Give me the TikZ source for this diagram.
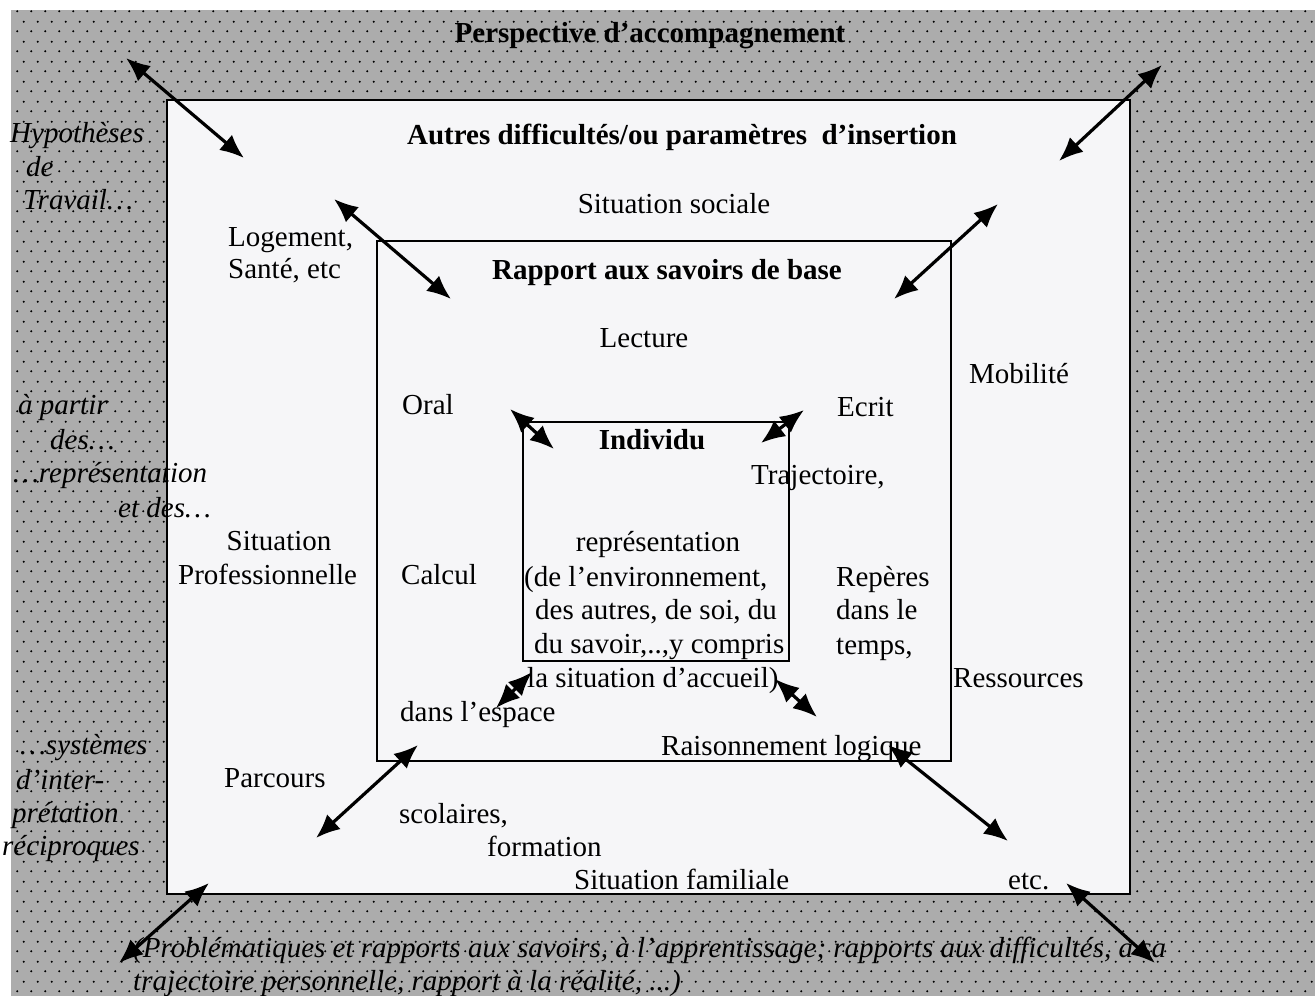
\documentclass[tikz,border=0pt]{standalone}
\usepackage{fontspec}
\setmainfont{Liberation Serif}
\usetikzlibrary{arrows.meta,patterns.meta}
\definecolor{bggray}{RGB}{172,172,172}
\definecolor{paper}{RGB}{246,246,248}
\tikzdeclarepattern{
  name=scandots,
  type=uncolored,
  bottom left={(0pt,0pt)},
  top right={(14pt,20pt)},
  tile size={(14pt,20pt)},
  code={
    \fill (3.5pt,5pt) circle (1.2pt);
    \fill (10.5pt,15pt) circle (1.2pt);
  }
}
\tikzset{
  txt/.style={inner sep=0pt, font=\fontsize{29}{34}\selectfont},
  hdr/.style={inner sep=0pt, font=\fontsize{29}{34}\selectfont\bfseries},
  side/.style={inner sep=0pt, font=\fontsize{29}{34}\selectfont\itshape},
  dbl/.style={line width=3.2pt, {Latex[length=24pt,width=20pt]}-{Latex[length=24pt,width=20pt]}},
  boxline/.style={draw=black, fill=paper, line width=2.2pt}
}
\begin{document}
\begin{tikzpicture}[x=1pt,y=-1pt]
\useasboundingbox (0,0) rectangle (1315,996);
\fill[white] (0,0) rectangle (1315,996);
\fill[bggray] (11,10) rectangle (1315,996);
\fill[pattern={scandots}, pattern color=black] (11,10) rectangle (1315,996);
% boxes
\draw[boxline] (167,100) rectangle (1130,894);
\draw[boxline, line width=2pt] (377,241) rectangle (951,761);
\draw[boxline, line width=2pt] (523,422) rectangle (789,661);
% texts
\node[hdr, anchor=base] (persp) at (650,42) {Perspective d’accompagnement};
\node[hdr, anchor=base] (autres) at (682,144) {Autres difficultés/ou paramètres\ \ d’insertion};
\node[txt, anchor=base] (sitsoc) at (674,213) {Situation sociale};
\node[txt, anchor=base west] (loge1) at (228,246) {Logement,};
\node[txt, anchor=base west] (loge2) at (228,278) {Santé, etc};
\node[hdr, anchor=base] (rapport) at (667,279) {Rapport aux savoirs de base};
\node[txt, anchor=base] (lecture) at (644,347) {Lecture};
\node[txt, anchor=base] (mobil) at (1019,383) {Mobilité};
\node[txt, anchor=base west] (oral) at (402,414) {Oral};
\node[txt, anchor=base west] (ecrit) at (837,416) {Ecrit};
\node[hdr, anchor=base] (indiv) at (652,449) {Individu};
\node[txt, anchor=base west] (traj) at (751,484) {Trajectoire,};
\node[txt, anchor=base] (repr) at (658,551) {représentation};
\node[txt, anchor=base west] (repr1) at (524,586) {(de l’environnement,};
\node[txt, anchor=base west] (repr2) at (535,619) {des autres, de soi, du};
\node[txt, anchor=base west] (repr3) at (534,653) {du savoir,..,y compris};
\node[txt, anchor=base west] (repr4) at (527,687) {la situation d’accueil)};
\node[txt, anchor=base] (sitpro1) at (279,550) {Situation};
\node[txt, anchor=base west] (sitpro2) at (178,584) {Professionnelle};
\node[txt, anchor=base west] (calcul) at (401,584) {Calcul};
\node[txt, anchor=base west] (rep1) at (836,586) {Repères};
\node[txt, anchor=base west] (rep2) at (836,619) {dans le};
\node[txt, anchor=base west] (rep3) at (836,654) {temps,};
\node[txt, anchor=base west] (ressour) at (953,687) {Ressources};
\node[txt, anchor=base west] (espace) at (400,721) {dans l’espace};
\node[txt, anchor=base west] (raison) at (661,755) {Raisonnement logique};
\node[txt, anchor=base west] (parcours) at (224,787) {Parcours};
\node[txt, anchor=base west] (scol) at (399,823) {scolaires,};
\node[txt, anchor=base west] (form) at (487,856) {formation};
\node[txt, anchor=base west] (sitfam) at (574,889) {Situation familiale};
\node[txt, anchor=base west] (etc) at (1008,889) {etc.};
% side texts
\node[side, anchor=base west] (hyp1) at (10,142) {Hypothèses};
\node[side, anchor=base west] (hyp2) at (26,176) {de};
\node[side, anchor=base west] (hyp3) at (23,209) {Travail…};
\node[side, anchor=base west] (ap1) at (18,414) {à partir};
\node[side, anchor=base west] (ap2) at (50,449) {des…};
\node[side, anchor=base west] (ap3) at (13,482) {…représentation};
\node[side, anchor=base west] (ap4) at (118,517) {et des…};
\node[side, anchor=base west] (sys1) at (20,754) {…systèmes};
\node[side, anchor=base west] (sys2) at (16,789) {d’inter-};
\node[side, anchor=base west] (sys3) at (12,822) {prétation};
\node[side, anchor=base west] (sys4) at (2,855) {réciproques};
\node[side, anchor=base west] (bot1) at (133,957) {(Problématiques et rapports aux savoirs, à l’apprentissage; rapports aux difficultés, à sa};
\node[side, anchor=base west] (bot2) at (133,990) {trajectoire personnelle, rapport à la réalité, ...)};
% arrow end points
\coordinate (a1) at (126,58);  \coordinate (b1) at (244,158);
\coordinate (a2) at (1162,65); \coordinate (b2) at (1059,161);
\coordinate (a3) at (334,199); \coordinate (b3) at (451,299);
\coordinate (a4) at (998,204); \coordinate (b4) at (894,299);
\coordinate (a5) at (510,409); \coordinate (b5) at (554,449);
\coordinate (a6) at (804,410); \coordinate (b6) at (761,443);
\coordinate (a7) at (532,672); \coordinate (b7) at (496,708);
\coordinate (a8) at (775,679); \coordinate (b8) at (817,717);
\coordinate (a9) at (418,745); \coordinate (b9) at (316,838);
\coordinate (a10) at (888,745); \coordinate (b10) at (1008,841);
\coordinate (a11) at (209,883); \coordinate (b11) at (119,963);
\coordinate (a12) at (1066,883); \coordinate (b12) at (1155,963);
\foreach \i in {1,...,12} {\draw[dbl] (a\i) -- (b\i);}
\end{tikzpicture}
\end{document}
